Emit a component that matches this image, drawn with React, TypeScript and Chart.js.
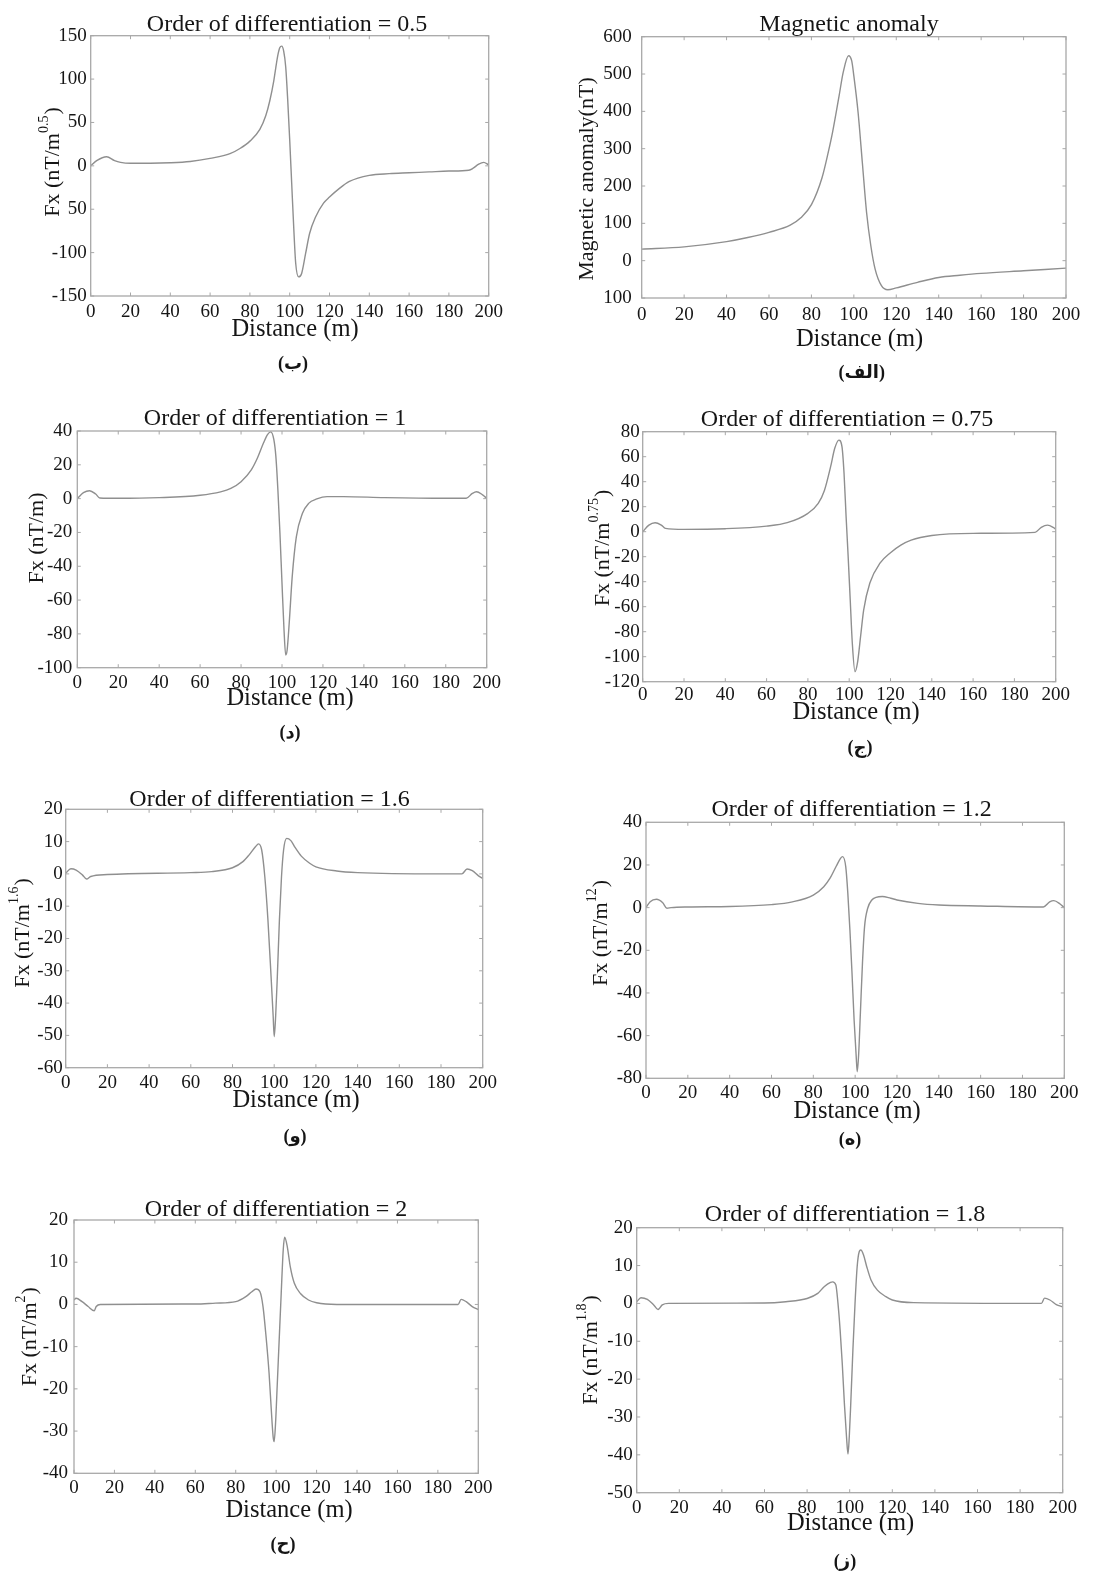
import React, { useEffect, useRef } from "react";
import { Chart, registerables } from "chart.js";

Chart.register(...registerables);

// ---------- shared axis ----------
const distanceTicks = [0, 20, 40, 60, 80, 100, 120, 140, 160, 180, 200];
const distanceTickLabels = ["0", "20", "40", "60", "80", "100", "120", "140", "160", "180", "200"];

// ---------- (ب) order 0.5 ----------
const dist05 = [0, 3, 8, 12, 15, 20, 30, 40, 50, 60, 70, 75, 80, 85, 88, 90, 92, 93, 94, 95, 96, 97, 98, 99, 100, 101, 102, 103, 104.5, 106, 108, 110, 113, 117, 120, 125, 130, 140, 150, 160, 170, 180, 190, 192, 195, 197.5, 200];
const fx05 = [0, 6, 10.5, 6, 4, 3, 3, 3.5, 5, 8.6, 14, 20, 28.5, 42, 58, 75, 98, 113, 127, 136, 138, 132, 114, 76, 30, -20, -70, -112, -128, -124, -101, -78, -59, -43, -36, -26, -18, -11, -9, -8, -7, -6, -5, -3, 2, 4, 1];
const yTicks05 = [-150, -100, -50, 0, 50, 100, 150];
const yTickLabels05 = ["-150", "-100", "50", "0", "50", "100", "150"];

// ---------- (الف) magnetic anomaly ----------
const distMag = [0, 20, 40, 50, 60, 70, 75, 80, 85, 88, 90, 93, 95, 97.5, 99, 100, 102, 104, 106, 108, 110, 113, 116, 120, 130, 140, 150, 160, 180, 200];
const magAnomaly = [31, 37, 51, 62, 76, 95, 115, 150, 222, 292, 345, 440, 505, 549, 535, 495, 397, 263, 129, 40, -22, -67, -78, -73, -58, -45, -39, -34, -27, -20];
const yTicksMag = [-100, 0, 100, 200, 300, 400, 500, 600];
const yTickLabelsMag = ["100", "0", "100", "200", "300", "400", "500", "600"];

// ---------- (د) order 1 ----------
const dist1 = [0, 3, 6, 9, 11, 20, 40, 60, 70, 75, 80, 85, 88, 91, 93, 94.5, 96, 97, 98, 99, 100, 101, 101.8, 102.5, 103.5, 105, 107, 110, 113, 117, 122, 130, 150, 180, 190, 193, 195, 198, 200];
const fx1 = [0, 3.5, 4.7, 2.7, 0.4, 0.2, 0.6, 2, 4, 6, 10, 17, 24, 33, 38, 39.5, 35, 25, 5, -20.6, -50, -78, -92.5, -89.7, -74, -46, -22.6, -8.7, -2.8, -0.2, 1.2, 1.2, 0.6, 0.2, 0.2, 3.1, 4.1, 2.2, 0.2];
const yTicks1 = [-100, -80, -60, -40, -20, 0, 20, 40];
const yTickLabels1 = ["-100", "-80", "-60", "-40", "-20", "0", "20", "40"];

// ---------- (ج) order 0.75 ----------
const dist075 = [0, 3, 6, 9, 11, 20, 40, 60, 70, 80, 85, 88, 91, 93, 95, 96.5, 97.5, 98.5, 99.5, 100.5, 101.5, 102.8, 104, 105.5, 107, 110, 115, 120, 125, 130, 140, 160, 190, 193, 196, 199, 200];
const fx075 = [0, 5.3, 7.2, 5.3, 2.7, 1.9, 2.4, 4.5, 7.2, 14.7, 22.7, 33, 52, 66.7, 73.3, 68, 46.7, 12, -20, -54.7, -89, -112, -105, -84, -62.7, -41, -25, -16.8, -10.7, -6.7, -3, -1.3, -0.5, 3.5, 5.3, 3.2, 1.9];
const yTicks075 = [-120, -100, -80, -60, -40, -20, 0, 20, 40, 60, 80];
const yTickLabels075 = ["-120", "-100", "-80", "-60", "-40", "-20", "0", "20", "40", "60", "80"];

// ---------- (و) order 1.6 ----------
const dist16 = [0, 2.5, 5, 8, 10, 12, 20, 60, 70, 80, 85, 88, 91, 92.5, 94, 95.5, 97, 98.5, 99.5, 100, 100.7, 101.5, 102.5, 103.5, 104.5, 106, 108, 110, 113, 117, 120, 130, 140, 180, 190, 192.5, 195, 198, 200];
const fx16 = [0.2, 1.6, 1.2, -0.3, -1.6, -0.8, -0.2, 0.4, 0.7, 1.9, 3.8, 5.9, 8.4, 9.3, 7.4, -0.9, -14.3, -31.8, -44, -50.4, -44, -31.8, -14.3, -0.9, 7.4, 11, 10.3, 8.2, 5.5, 3.3, 2.2, 0.9, 0.4, 0, 0, 1.5, 1, -0.6, -1.4];
const yTicks16 = [-60, -50, -40, -30, -20, -10, 0, 10, 20];
const yTickLabels16 = ["-60", "-50", "-40", "-30", "-20", "-10", "0", "10", "20"];

// ---------- (ه) order 1.2 ----------
const dist12 = [0, 2, 5, 8, 10, 12, 20, 40, 60, 70, 80, 85, 88, 91, 93, 94, 95.5, 96.5, 97.5, 98.5, 99.5, 100.5, 101, 101.7, 102.5, 103.5, 104.5, 106, 108, 110, 113, 117, 120, 130, 140, 160, 190, 193, 195, 198, 200];
const fx12 = [0, 2.8, 3.9, 2.3, -0.3, 0, 0.3, 0.5, 1.4, 2.7, 5.9, 9.8, 13.8, 19.5, 23.1, 23.9, 19.2, 6.7, -10.5, -30.8, -52.7, -69.8, -76.9, -68.3, -49.5, -26, -8.9, -0.3, 3.6, 4.8, 5.2, 4.4, 3.6, 2, 1.25, 0.8, 0.3, 2.7, 3.3, 1.7, 0];
const yTicks12 = [-80, -60, -40, -20, 0, 20, 40];
const yTickLabels12 = ["-80", "-60", "-40", "-20", "0", "20", "40"];

// ---------- (ح) order 2 ----------
const dist2 = [0, 1, 4, 7, 10, 11, 13, 60, 70, 80, 85, 88, 90, 92, 93.5, 95, 96.5, 97.5, 98.5, 99, 99.7, 100.5, 101.5, 102.5, 103.5, 104.2, 105.5, 107, 109, 112, 116, 120, 130, 190, 191.5, 194, 197, 200];
const fx2 = [1.05, 1.45, 0.65, -0.5, -1.5, -0.5, 0, 0.1, 0.3, 0.65, 1.85, 3, 3.65, 3, -0.5, -7.6, -16.3, -24.2, -31.3, -32.5, -28.2, -19.5, -8.4, 2.6, 12.9, 15.9, 13.7, 8.9, 5, 2.6, 1.05, 0.4, 0, 0, 1.2, 0.65, -0.5, -1.2];
const yTicks2 = [-40, -30, -20, -10, 0, 10, 20];
const yTickLabels2 = ["-40", "-30", "-20", "-10", "0", "10", "20"];

// ---------- (ز) order 1.8 ----------
const dist18 = [0, 2, 5, 8, 10, 12, 15, 60, 70, 80, 85, 88, 91, 92, 93.5, 94.5, 95.5, 96.5, 97.5, 98.5, 99.2, 99.8, 100.5, 101.5, 102.5, 103.5, 104.5, 105.2, 106.5, 108, 110, 113, 117, 120, 130, 190, 191.5, 194, 197, 200];
const fx18 = [0.45, 1.5, 1.07, -0.4, -1.6, -0.4, 0, 0.1, 0.45, 1.3, 2.65, 4.4, 5.55, 5.7, 4.85, 0, -7, -15.8, -26.4, -35.2, -39.8, -35.2, -26.4, -12.3, 0, 9.7, 13.7, 14.1, 12.8, 9.7, 6.2, 3.5, 1.8, 0.9, 0.2, 0, 1.4, 0.9, -0.3, -0.9];
const yTicks18 = [-50, -40, -30, -20, -10, 0, 10, 20];
const yTickLabels18 = ["-50", "-40", "-30", "-20", "-10", "0", "10", "20"];

// ---------- styles ----------
const SERIF = "'Liberation Serif', 'Times New Roman', serif";
const CAPTION_FONT = "bold 18px 'Liberation Serif', 'DejaVu Sans', serif";
const LINE = "#8f8f8f";
const BOX = "#a8a8a8";
const TEXT = "#151515";
const YW = 50;
const XH = 30;
const PAGE_H = 1574;

type Layout = {
  col: number;
  plot: { L: number; T: number; R: number; B: number };
  yTickPad: number;
  xTickY: number;
  title: [number, number];
  xTitle: [number, number];
  yTitle: [number, number];
  caption: [number, number];
};

const panels = [
  {
    key: "p05", xs: dist05, ys: fx05, yTicks: yTicks05, yLabels: yTickLabels05,
    title: "Order of differentiation = 0.5", yTitle: ["Fx (nT/m", "0.5", ")"], caption: "(ب)",
    layout: { col: 0, plot: { L: 90.7, T: 35.7, R: 488.7, B: 296 }, yTickPad: 4, xTickY: 312, title: [287, 25], xTitle: [295, 330], yTitle: [53, 162], caption: [293, 364] } as Layout,
  },
  {
    key: "mag", xs: distMag, ys: magAnomaly, yTicks: yTicksMag, yLabels: yTickLabelsMag,
    title: "Magnetic anomaly", yTitle: ["Magnetic anomaly(nT)", "", ""], caption: "(الف)",
    layout: { col: 1, plot: { L: 641.7, T: 36.7, R: 1066, B: 298 }, yTickPad: 10, xTickY: 315, title: [849, 25], xTitle: [859.5, 340], yTitle: [587, 179], caption: [861.7, 373] } as Layout,
  },
  {
    key: "p1", xs: dist1, ys: fx1, yTicks: yTicks1, yLabels: yTickLabels1,
    title: "Order of differentiation = 1", yTitle: ["Fx (nT/m)", "", ""], caption: "(د)",
    layout: { col: 0, plot: { L: 77.3, T: 431, R: 486.7, B: 667.7 }, yTickPad: 5, xTickY: 683, title: [275, 419], xTitle: [290, 699], yTitle: [37, 538], caption: [290, 733] } as Layout,
  },
  {
    key: "p075", xs: dist075, ys: fx075, yTicks: yTicks075, yLabels: yTickLabels075,
    title: "Order of differentiation = 0.75", yTitle: ["Fx (nT/m", "0.75", ")"], caption: "(ج)",
    layout: { col: 1, plot: { L: 642.7, T: 431.7, R: 1055.7, B: 681.7 }, yTickPad: 3, xTickY: 695, title: [847, 420], xTitle: [856, 713], yTitle: [603, 548], caption: [860, 748] } as Layout,
  },
  {
    key: "p16", xs: dist16, ys: fx16, yTicks: yTicks16, yLabels: yTickLabels16,
    title: "Order of differentiation = 1.6", yTitle: ["Fx (nT/m", "1.6", ")"], caption: "(و)",
    layout: { col: 0, plot: { L: 65.7, T: 809.3, R: 482.7, B: 1067.7 }, yTickPad: 3, xTickY: 1083, title: [269.5, 800], xTitle: [296, 1101], yTitle: [23, 933], caption: [295, 1137] } as Layout,
  },
  {
    key: "p12", xs: dist12, ys: fx12, yTicks: yTicks12, yLabels: yTickLabels12,
    title: "Order of differentiation = 1.2", yTitle: ["Fx (nT/m", "12", ")"], caption: "(ه)",
    layout: { col: 1, plot: { L: 646, T: 822.3, R: 1064.3, B: 1078.3 }, yTickPad: 4, xTickY: 1093, title: [851.7, 810], xTitle: [857, 1112], yTitle: [601.7, 933], caption: [850, 1140] } as Layout,
  },
  {
    key: "p2", xs: dist2, ys: fx2, yTicks: yTicks2, yLabels: yTickLabels2,
    title: "Order of differentiation = 2", yTitle: ["Fx (nT/m", "2", ")"], caption: "(ح)",
    layout: { col: 0, plot: { L: 74, T: 1220, R: 478.3, B: 1473.3 }, yTickPad: 6, xTickY: 1488, title: [276, 1210], xTitle: [289, 1511], yTitle: [30, 1336.7], caption: [283, 1545] } as Layout,
  },
  {
    key: "p18", xs: dist18, ys: fx18, yTicks: yTicks18, yLabels: yTickLabels18,
    title: "Order of differentiation = 1.8", yTitle: ["Fx (nT/m", "1.8", ")"], caption: "(ز)",
    layout: { col: 1, plot: { L: 636.7, T: 1227.7, R: 1062.7, B: 1492.7 }, yTickPad: 4, xTickY: 1508, title: [845, 1215], xTitle: [850.5, 1524], yTitle: [591.7, 1350], caption: [845, 1562] } as Layout,
  },
];

function canvasRect(l: Layout) {
  const left = l.col === 0 ? 0 : 552;
  const width = l.col === 0 ? 552 : 553;
  const top = Math.max(0, Math.floor(l.plot.T - 48));
  const bottom = Math.min(PAGE_H, Math.ceil(l.plot.B + 100));
  return { left, top, width, height: bottom - top };
}

function makeDecor(p: any, rect: any) {
  return {
    id: "decor_" + p.key,
    afterDraw(chart: any) {
      const ctx = chart.ctx;
      const ca = chart.chartArea;
      const xs = chart.scales.x;
      const ys = chart.scales.y;
      const l: Layout = p.layout;
      const ox = rect.left;
      const oy = rect.top;
      ctx.save();
      // box
      ctx.strokeStyle = BOX;
      ctx.lineWidth = 1.3;
      ctx.strokeRect(ca.left, ca.top, ca.right - ca.left, ca.bottom - ca.top);
      // small inward ticks on all four sides
      const tk = 3.5;
      ctx.lineWidth = 1;
      ctx.beginPath();
      distanceTicks.forEach((v) => {
        const px = xs.getPixelForValue(v);
        ctx.moveTo(px, ca.bottom);
        ctx.lineTo(px, ca.bottom - tk);
        ctx.moveTo(px, ca.top);
        ctx.lineTo(px, ca.top + tk);
      });
      p.yTicks.forEach((v: number) => {
        const py = ys.getPixelForValue(v);
        ctx.moveTo(ca.left, py);
        ctx.lineTo(ca.left + tk, py);
        ctx.moveTo(ca.right, py);
        ctx.lineTo(ca.right - tk, py);
      });
      ctx.stroke();

      ctx.fillStyle = TEXT;
      ctx.textAlign = "center";
      ctx.textBaseline = "middle";
      // title
      ctx.font = `24px ${SERIF}`;
      ctx.fillText(p.title, l.title[0] - ox, l.title[1] - oy);
      // x title
      ctx.font = `24.5px ${SERIF}`;
      ctx.fillText("Distance (m)", l.xTitle[0] - ox, l.xTitle[1] - oy);
      // caption
      ctx.font = CAPTION_FONT;
      ctx.fillText(p.caption, l.caption[0] - ox, l.caption[1] - oy);
      // y title with superscript
      const [main, sup, tail] = p.yTitle;
      const mainFont = `22px ${SERIF}`;
      const supFont = `14px ${SERIF}`;
      ctx.font = mainFont;
      const w1 = ctx.measureText(main).width;
      const w3 = ctx.measureText(tail).width;
      ctx.font = supFont;
      const w2 = sup ? ctx.measureText(sup).width + 1 : 0;
      const total = w1 + w2 + w3;
      ctx.translate(l.yTitle[0] - ox, l.yTitle[1] - oy);
      ctx.rotate(-Math.PI / 2);
      ctx.textAlign = "left";
      ctx.font = mainFont;
      let cx = -total / 2;
      ctx.fillText(main, cx, 0);
      cx += w1;
      if (sup) {
        ctx.font = supFont;
        ctx.fillText(sup, cx, -9);
        cx += w2;
      }
      ctx.font = mainFont;
      ctx.fillText(tail, cx, 0);
      ctx.restore();
    },
  };
}

function Panel({ p }: { p: any }) {
  const ref = useRef<HTMLCanvasElement | null>(null);
  const rect = canvasRect(p.layout);
  useEffect(() => {
    const c = ref.current;
    if (!c) return;
    const l: Layout = p.layout;
    const padding = {
      left: l.plot.L - rect.left - YW,
      right: rect.left + rect.width - l.plot.R,
      top: l.plot.T - rect.top,
      bottom: rect.top + rect.height - l.plot.B - XH,
    };
    const tickFont = { family: SERIF, size: 19, lineHeight: 1.2 };
    const chart = new Chart(c, {
      type: "line",
      data: {
        datasets: [
          {
            data: p.xs.map((x: number, i: number) => ({ x, y: p.ys[i] })),
            borderColor: LINE,
            borderWidth: 1.4,
            pointRadius: 0,
            cubicInterpolationMode: "monotone",
            fill: false,
          },
        ],
      },
      options: {
        responsive: false,
        animation: false,
        devicePixelRatio: 1,
        events: [],
        layout: { padding },
        plugins: {
          legend: { display: false },
          title: { display: false },
          tooltip: { enabled: false },
        },
        scales: {
          x: {
            type: "linear",
            min: 0,
            max: 200,
            grid: { display: false, drawTicks: false },
            border: { display: false },
            afterBuildTicks: (s: any) => {
              s.ticks = distanceTicks.map((v) => ({ value: v }));
            },
            afterFit: (s: any) => {
              s.height = XH;
            },
            ticks: {
              autoSkip: false,
              maxRotation: 0,
              minRotation: 0,
              padding: l.xTickY - l.plot.B - 11.4,
              color: TEXT,
              font: tickFont,
              callback: (_v: any, i: number) => distanceTickLabels[i],
            },
          },
          y: {
            type: "linear",
            min: p.yTicks[0],
            max: p.yTicks[p.yTicks.length - 1],
            grid: { display: false, drawTicks: false },
            border: { display: false },
            afterBuildTicks: (s: any) => {
              s.ticks = p.yTicks.map((v: number) => ({ value: v }));
            },
            afterFit: (s: any) => {
              s.width = YW;
            },
            ticks: {
              autoSkip: false,
              padding: l.yTickPad,
              color: TEXT,
              font: tickFont,
              callback: (_v: any, i: number) => p.yLabels[i],
            },
          },
        },
      },
      plugins: [makeDecor(p, rect)],
    } as any);
    return () => chart.destroy();
  }, []);
  return (
    <canvas
      ref={ref}
      width={rect.width}
      height={rect.height}
      style={{ position: "absolute", left: rect.left, top: rect.top, width: rect.width, height: rect.height }}
    />
  );
}

export default function App() {
  return (
    <div
      style={{
        position: "absolute",
        left: 0,
        top: 0,
        width: 1105,
        height: PAGE_H,
        overflow: "hidden",
        background: "#ffffff",
      }}
    >
      {panels.map((p) => (
        <Panel key={p.key} p={p} />
      ))}
    </div>
  );
}
